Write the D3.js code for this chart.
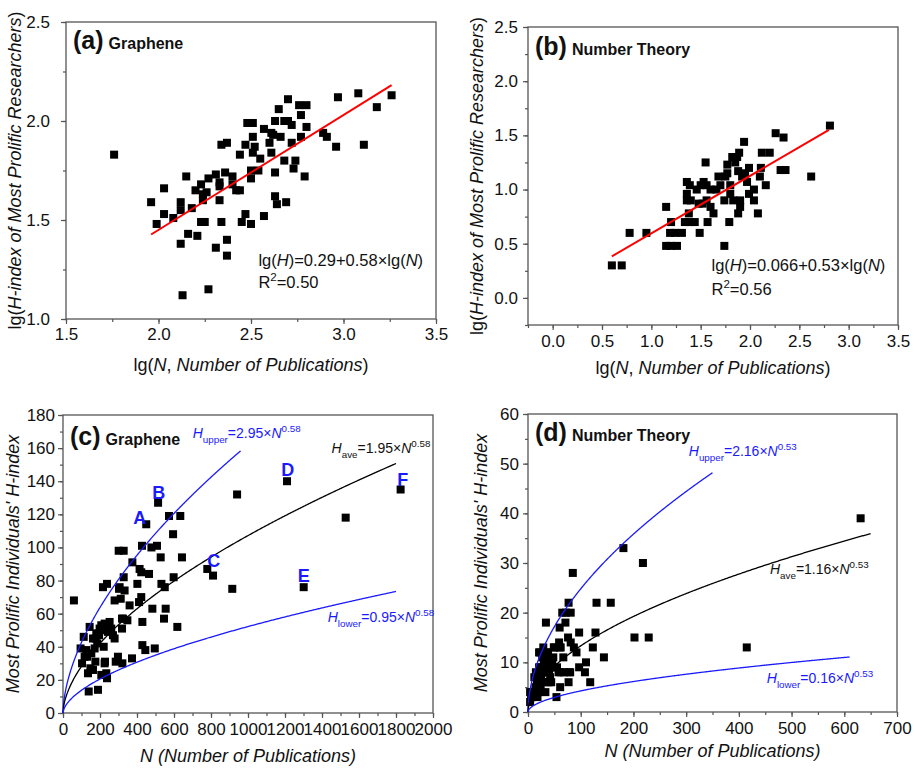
<!DOCTYPE html>
<html>
<head>
<meta charset="utf-8">
<script src="https://cdn.jsdelivr.net/npm/d3@7"></script>
<style>
  body { margin: 0; background: #fff; }
  text { font-family: "Liberation Sans", Arial, sans-serif; }
</style>
</head>
<body>
<div id="chart"></div>
<script>
// (a) graphene: [lg N, lg H]
var grapheneLog = [
  [1.76,1.83],[1.96,1.59],[1.99,1.48],[2.03,1.66],[2.03,1.53],[2.08,1.51],[2.15,1.72],[2.12,1.59],
  [2.12,1.55],[2.12,1.38],[2.13,1.12],[2.16,1.43],[2.18,1.56],[2.21,1.42],[2.20,1.65],[2.23,1.68],
  [2.23,1.49],[2.25,1.49],[2.24,1.63],[2.26,1.64],[2.24,1.60],[2.27,1.71],[2.27,1.15],[2.31,1.73],
  [2.33,1.69],[2.33,1.67],[2.33,1.60],[2.31,1.36],[2.34,1.49],[2.34,1.88],[2.37,1.89],[2.36,1.74],
  [2.37,1.40],[2.37,1.32],[2.40,1.72],[2.40,1.68],[2.42,1.65],[2.44,1.65],[2.44,1.83],[2.45,1.49],
  [2.47,1.53],[2.47,1.88],[2.48,1.99],[2.51,1.99],[2.50,1.71],[2.50,1.48],[2.51,1.92],[2.51,1.84],
  [2.52,1.87],[2.50,1.75],[2.54,1.75],[2.55,1.81],[2.57,1.52],[2.57,1.96],[2.60,1.89],[2.61,1.94],
  [2.61,1.84],[2.62,1.93],[2.63,2.00],[2.63,1.74],[2.63,1.62],[2.64,1.58],[2.65,2.06],[2.66,1.92],
  [2.68,2.00],[2.68,1.80],[2.69,1.59],[2.70,2.11],[2.70,2.00],[2.72,1.98],[2.72,1.89],[2.73,1.76],
  [2.74,1.80],[2.76,2.08],[2.77,2.03],[2.77,1.92],[2.79,1.72],[2.80,2.08],[2.80,1.97],[2.89,1.94],
  [2.91,1.92],[2.96,1.87],[2.97,2.12],[3.08,2.14],[3.11,1.88],[3.18,2.07],[3.26,2.13]
];

// (b) number theory: [lg N, lg H]
var numberLog = [
  [0.60,0.30],[0.70,0.30],[0.78,0.60],[0.95,0.60],[1.15,0.84],[1.15,0.48],[1.20,0.48],[1.26,0.48],
  [1.19,0.60],[1.20,0.70],[1.24,0.60],[1.31,0.60],[1.34,0.70],[1.36,1.07],[1.36,0.96],[1.36,0.90],
  [1.39,1.04],[1.38,0.78],[1.39,0.70],[1.44,0.70],[1.40,0.90],[1.46,1.00],[1.48,0.87],[1.49,0.60],
  [1.50,1.04],[1.53,1.07],[1.55,1.25],[1.56,0.90],[1.56,1.04],[1.57,0.70],[1.60,1.00],[1.60,0.84],
  [1.63,0.78],[1.66,1.00],[1.68,1.12],[1.70,1.04],[1.74,0.90],[1.74,0.48],[1.75,1.12],[1.77,1.23],
  [1.77,1.15],[1.79,0.70],[1.80,1.04],[1.80,0.96],[1.82,1.30],[1.83,0.90],[1.85,1.25],[1.87,1.30],
  [1.88,1.17],[1.89,1.34],[1.90,0.90],[1.90,0.84],[1.88,0.78],[1.92,1.12],[1.94,1.44],[1.95,1.15],
  [1.97,1.07],[1.99,0.96],[1.99,1.20],[2.04,0.90],[2.04,1.00],[2.08,0.78],[2.10,1.12],[2.11,1.20],
  [2.12,1.34],[2.16,1.04],[2.20,1.34],[2.26,1.52],[2.31,1.18],[2.34,1.48],[2.36,1.18],[2.62,1.12],
  [2.81,1.59],[1.52,0.87]
];

// (c) graphene: [N, H]
var grapheneRaw = [
  [59,68],[95,39],[103,30],[112,46],[117,34],[126,38],[130,34],[135,24],[139,13],[144,52],[148,27],
  [153,36],[162,45],[162,26],[171,39],[175,31],[177,45],[180,48],[185,42],[189,14],[189,48],[195,47],
  [198,51],[207,53],[207,23],[216,76],[220,40],[225,54],[225,30],[227,31],[234,24],[234,50],[238,78],
  [238,21],[243,49],[252,55],[261,51],[270,47],[279,68],[279,45],[285,31],[297,34],[301,98],[303,75],
  [306,76],[312,69],[319,51],[319,57],[321,30],[324,57],[328,98],[328,82],[333,74],[348,56],[360,65],
  [373,33],[375,91],[402,78],[411,67],[414,87],[423,85],[423,70],[427,101],[429,55],[429,41],[445,38],
  [450,114],[465,84],[478,100],[483,63],[496,39],[508,101],[514,127],[528,94],[532,78],[546,57],
  [550,76],[555,63],[573,119],[595,108],[598,82],[618,52],[634,119],[643,94],[780,87],[811,83],
  [915,75],[941,132],[1211,140],[1301,76],[1528,118],[1825,135]
];

// (d) number theory: [N, H]
var numberRaw = [
  [4,2],[4,4],[6,3],[7,3],[8,4],[10,4],[12,7],[14,5],[15,8],[17,6],[18,7],[18,3],[20,4],[21,9],
  [21,12],[23,12],[23,9],[24,5],[25,7],[26,8],[27,11],[27,6],[29,13],[30,9],[30,10],[33,4],[34,18],
  [35,12],[36,11],[37,6],[37,8],[38,12],[40,8],[41,6],[42,7],[42,10],[43,9],[44,6],[46,10],[48,11],
  [49,13],[49,9],[50,13],[54,3],[55,9],[58,8],[59,14],[60,17],[60,13],[61,5],[62,13],[62,8],[65,20],
  [67,11],[68,8],[71,18],[72,20],[76,15],[77,22],[77,6],[78,8],[80,8],[81,20],[81,14],[85,28],[87,13],
  [92,12],[97,16],[97,9],[108,8],[110,10],[118,6],[123,13],[128,16],[130,22],[144,11],[157,22],
  [181,33],[202,15],[218,30],[229,15],[415,13],[631,39]
];

// linear fits of the log panels: [intercept, slope, x from, x to]
var fitA = [0.29, 0.58, 1.96, 3.26];
var fitB = [0.066, 0.53, 0.60, 2.80];

// power curves H = k * N^p: [k, p, N max]
var curvesC = [[2.95, 0.58, 960], [1.95, 0.58, 1800], [0.95, 0.58, 1800]];
var curvesD = [[2.16, 0.53, 350], [1.16, 0.53, 650], [0.37, 0.53, 610]];

// lettered researchers in (c): [label, N, H]
var lettersC = [["A",415,118],["B",517,133],["C",815,92],["D",1215,147],["E",1301,83],["F",1836,141]];

var ticksA = { x: [1.5, 2.0, 2.5, 3.0, 3.5], y: [1.0, 1.5, 2.0, 2.5] };
var ticksB = { x: [0.0, 0.5, 1.0, 1.5, 2.0, 2.5, 3.0, 3.5], y: [0.0, 0.5, 1.0, 1.5, 2.0, 2.5] };
var ticksC = { x: d3.range(0, 2001, 200), y: d3.range(0, 181, 20) };
var ticksD = { x: d3.range(0, 701, 100), y: d3.range(0, 61, 10) };

var svg = d3.select("#chart").append("svg")
    .attr("width", 914)
    .attr("height", 769);

var frameColor = "#555";

// draws text made of parts: [string, "i" | "sub" | "sup" | ""]
function richText(g, x, y, size, color, parts) {
    var t = g.append("text").attr("x", x).attr("y", y)
        .attr("font-size", size).attr("fill", color);
    var shift = 0;
    parts.forEach(function (p) {
        var s = t.append("tspan").text(p[0]);
        var want = p[1] == "sub" ? size * 0.38 : (p[1] == "sup" ? -size * 0.42 : 0);
        s.attr("dy", want - shift);
        shift = want;
        if (p[1] == "sub" || p[1] == "sup") s.attr("font-size", size * 0.7);
        if (p[1] == "i") s.attr("font-style", "italic");
    });
    return t;
}

function panel(o) {
    var x = d3.scaleLinear().domain(o.xDom).range([o.left, o.right]);
    var y = d3.scaleLinear().domain(o.yDom).range([o.bottom, o.top]);
    var g = svg.append("g");

    // minor ticks
    g.append("g").attr("transform", "translate(0," + o.bottom + ")")
        .call(d3.axisBottom(x).tickValues(o.xMinor).tickSize(3).tickSizeOuter(0).tickFormat(""));
    g.append("g").attr("transform", "translate(" + o.left + ",0)")
        .call(d3.axisLeft(y).tickValues(o.yMinor).tickSize(3).tickSizeOuter(0).tickFormat(""));

    // major ticks
    g.append("g").attr("class", "xa").attr("transform", "translate(0," + o.bottom + ")")
        .call(d3.axisBottom(x).tickValues(o.ticks.x).tickSize(5).tickSizeOuter(0)
            .tickPadding(o.xPad).tickFormat(d3.format(o.fmt)));
    g.append("g").attr("class", "ya").attr("transform", "translate(" + o.left + ",0)")
        .call(d3.axisLeft(y).tickValues(o.ticks.y).tickSize(5).tickSizeOuter(0)
            .tickPadding(o.yPad).tickFormat(d3.format(o.fmt)));

    g.selectAll(".domain").remove();
    g.selectAll(".tick line").attr("stroke", frameColor).attr("stroke-width", 1.2);
    g.selectAll(".tick text").attr("font-size", 17).attr("fill", "#111")
        .attr("font-family", "Liberation Sans, Arial, sans-serif");

    g.append("rect")
        .attr("x", o.left).attr("y", o.top)
        .attr("width", o.right - o.left).attr("height", o.bottom - o.top)
        .attr("fill", "none").attr("stroke", frameColor).attr("stroke-width", 1.3);

    // squares
    g.selectAll("rect.pt").data(o.points).enter().append("rect")
        .attr("class", "pt")
        .attr("x", function (d) { return x(d[0]) - 4; })
        .attr("y", function (d) { return y(d[1]) - 4; })
        .attr("width", 8).attr("height", 8)
        .attr("fill", "#000");

    // panel tag
    var tag = g.append("text").attr("x", o.left + 7).attr("y", o.top + o.tagDy)
        .attr("font-weight", "bold").attr("fill", "#111");
    tag.append("tspan").attr("font-size", 25).text(o.tag);
    tag.append("tspan").attr("font-size", 16).attr("dx", 5).text(o.topic);

    // axis titles
    var xt = g.append("text").attr("x", (o.left + o.right) / 2).attr("y", o.xTitleY)
        .attr("text-anchor", "middle").attr("font-size", 18).attr("fill", "#111");
    o.xTitle.forEach(function (p) {
        xt.append("tspan").attr("font-style", p[1] == "i" ? "italic" : null).text(p[0]);
    });
    var yt = g.append("text")
        .attr("transform", "translate(" + o.yTitleX + "," + (o.top + o.bottom) / 2 + ") rotate(-90)")
        .attr("text-anchor", "middle").attr("font-size", 18).attr("fill", "#111");
    o.yTitle.forEach(function (p) {
        yt.append("tspan").attr("font-style", p[1] == "i" ? "italic" : null).text(p[0]);
    });

    return { g: g, x: x, y: y };
}

function minor(dom, step) {
    return d3.range(dom[0], dom[1] + step / 2, step);
}

var lgX = [["lg("], ["N", "i"], [", "], ["Number of Publications", "i"], [")"]];
var lgY = [["lg("], ["H-index of Most Prolific Researchers", "i"], [")"]];
var nX = [["N (Number of Publications)", "i"]];
var hY = [["Most Prolific Individuals' H-index", "i"]];

// ---------- (a)
var a = panel({
    left: 66, right: 436, top: 22, bottom: 319,
    xDom: [1.5, 3.5], yDom: [1.0, 2.5], ticks: ticksA,
    xMinor: minor([1.5, 3.5], 0.25), yMinor: minor([1.0, 2.5], 0.25),
    fmt: ".1f", xPad: 4, yPad: 11, points: grapheneLog,
    tag: "(a)", topic: "Graphene", tagDy: 27,
    xTitle: lgX, yTitle: lgY, xTitleY: 371, yTitleX: 21
});
a.g.append("line")
    .attr("x1", a.x(fitA[2])).attr("y1", a.y(fitA[0] + fitA[1] * fitA[2]))
    .attr("x2", a.x(fitA[3])).attr("y2", a.y(fitA[0] + fitA[1] * fitA[3]))
    .attr("stroke", "#ff0000").attr("stroke-width", 2);
richText(a.g, a.x(2.54), a.y(1.27), 16.5, "#111",
    [["lg("], ["H", "i"], [")=0.29+0.58\u00d7lg("], ["N", "i"], [")"]]);
richText(a.g, a.x(2.54), a.y(1.157), 16.5, "#111", [["R"], ["2", "sup"], ["=0.50"]]);

// ---------- (b)
var b = panel({
    left: 528, right: 898, top: 27, bottom: 325,
    xDom: [-0.25, 3.5], yDom: [-0.25, 2.5], ticks: ticksB,
    xMinor: minor([-0.25, 3.5], 0.25), yMinor: minor([-0.25, 2.5], 0.25),
    fmt: ".1f", xPad: 5, yPad: 5, points: numberLog,
    tag: "(b)", topic: "Number Theory", tagDy: 28,
    xTitle: lgX, yTitle: lgY, xTitleY: 374, yTitleX: 483
});
b.g.append("line")
    .attr("x1", b.x(fitB[2])).attr("y1", b.y(fitB[0] + fitB[1] * fitB[2]))
    .attr("x2", b.x(fitB[3])).attr("y2", b.y(fitB[0] + fitB[1] * fitB[3]))
    .attr("stroke", "#ff0000").attr("stroke-width", 2);
richText(b.g, b.x(1.61), b.y(0.245), 16.5, "#111",
    [["lg("], ["H", "i"], [")=0.066+0.53\u00d7lg("], ["N", "i"], [")"]]);
richText(b.g, b.x(1.61), b.y(0.025), 16.5, "#111", [["R"], ["2", "sup"], ["=0.56"]]);

function powerCurves(p, curves, colors) {
    var line = d3.line()
        .x(function (d) { return p.x(d[0]); })
        .y(function (d) { return p.y(d[1]); });
    curves.forEach(function (c, i) {
        var pts = d3.range(0, c[2] + 0.001, c[2] / 400).map(function (n) {
            return [n, c[0] * Math.pow(n, c[1])];
        });
        p.g.append("path").attr("d", line(pts))
            .attr("fill", "none").attr("stroke", colors[i]).attr("stroke-width", 1.3);
    });
}

// ---------- (c)
var c = panel({
    left: 63, right: 433, top: 415, bottom: 713,
    xDom: [0, 2000], yDom: [0, 180], ticks: ticksC,
    xMinor: minor([0, 2000], 100), yMinor: minor([0, 180], 10),
    fmt: "d", xPad: 5, yPad: 3, points: grapheneRaw,
    tag: "(c)", topic: "Graphene", tagDy: 30,
    xTitle: nX, yTitle: hY, xTitleY: 762, yTitleX: 19
});
powerCurves(c, curvesC, ["#1a1aff", "#000", "#1a1aff"]);
lettersC.forEach(function (l) {
    c.g.append("text").attr("x", c.x(l[1])).attr("y", c.y(l[2]) + 6.5)
        .attr("text-anchor", "middle").attr("font-size", 18).attr("font-weight", "bold")
        .attr("fill", "#1a1aff").text(l[0]);
});
richText(c.g, c.x(701), c.y(166), 14, "#1a1aff",
    [["H", "i"], ["upper", "sub"], ["=2.95\u00d7"], ["N", "i"], ["0.58", "sup"]]);
richText(c.g, c.x(1452), c.y(157), 14, "#111",
    [["H", "i"], ["ave", "sub"], ["=1.95\u00d7"], ["N", "i"], ["0.58", "sup"]]);
richText(c.g, c.x(1431), c.y(55), 14, "#1a1aff",
    [["H", "i"], ["lower", "sub"], ["=0.95\u00d7"], ["N", "i"], ["0.58", "sup"]]);

// ---------- (d)
var d = panel({
    left: 528, right: 897, top: 414, bottom: 712,
    xDom: [0, 700], yDom: [0, 60], ticks: ticksD,
    xMinor: minor([0, 700], 50), yMinor: minor([0, 60], 5),
    fmt: "d", xPad: 5, yPad: 4, points: numberRaw,
    tag: "(d)", topic: "Number Theory", tagDy: 27,
    xTitle: nX, yTitle: hY, xTitleY: 757, yTitleX: 487
});
powerCurves(d, curvesD, ["#1a1aff", "#000", "#1a1aff"]);
richText(d.g, d.x(305), d.y(51.6), 14, "#1a1aff",
    [["H", "i"], ["upper", "sub"], ["=2.16\u00d7"], ["N", "i"], ["0.53", "sup"]]);
richText(d.g, d.x(459), d.y(27.8), 14, "#111",
    [["H", "i"], ["ave", "sub"], ["=1.16\u00d7"], ["N", "i"], ["0.53", "sup"]]);
richText(d.g, d.x(453), d.y(5.9), 14, "#1a1aff",
    [["H", "i"], ["lower", "sub"], ["=0.16\u00d7"], ["N", "i"], ["0.53", "sup"]]);
</script>
</body>
</html>
